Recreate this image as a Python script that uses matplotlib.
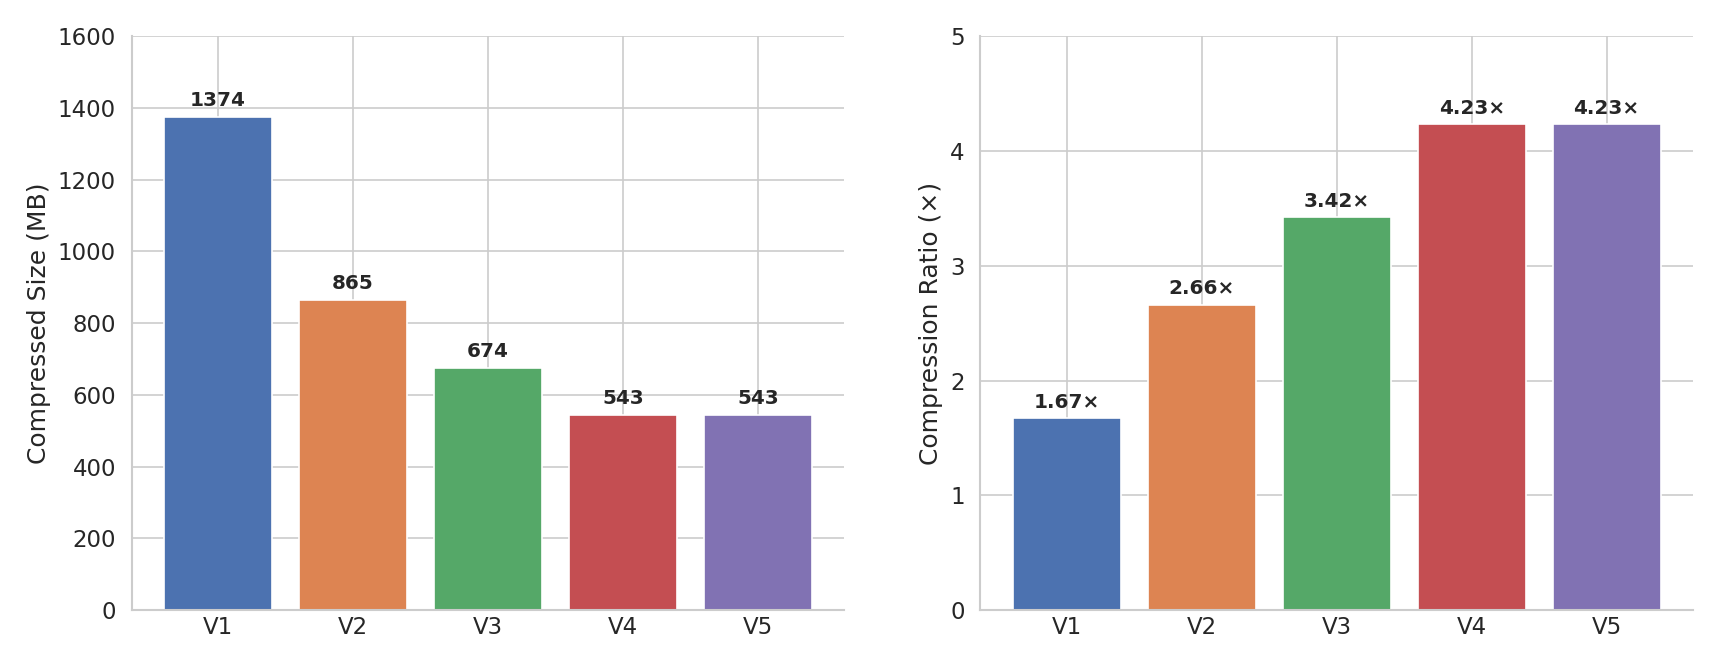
import matplotlib
matplotlib.use("Agg")
import matplotlib.pyplot as plt
import seaborn as sns

versions = ["V1", "V2", "V3", "V4", "V5"]
sizes_mb = [1374, 865, 674, 543, 543]
ratios = [1.67, 2.66, 3.42, 4.23, 4.23]

sns.set_theme(style="whitegrid", font_scale=1.25)
colors = sns.color_palette("deep", 5)

fig, (ax1, ax2) = plt.subplots(1, 2, figsize=(14.333, 5.55), dpi=120)

ax1.bar(versions, sizes_mb, color=colors)
for i, v in enumerate(sizes_mb):
    ax1.text(i, v + 20, str(v), ha="center", va="bottom", fontsize=12, fontweight="bold")
ax1.set_ylim(0, 1600)
ax1.set_ylabel("Compressed Size (MB)")

ax2.bar(versions, ratios, color=colors)
for i, v in enumerate(ratios):
    ax2.text(i, v + 0.06, f"{v:.2f}×", ha="center", va="bottom", fontsize=12, fontweight="bold")
ax2.set_ylim(0, 5)
ax2.set_ylabel("Compression Ratio (×)")

for ax in (ax1, ax2):
    sns.despine(ax=ax)
    ax.tick_params(axis="x", length=0)

plt.tight_layout(w_pad=3)
plt.savefig("out.png", dpi=120)
